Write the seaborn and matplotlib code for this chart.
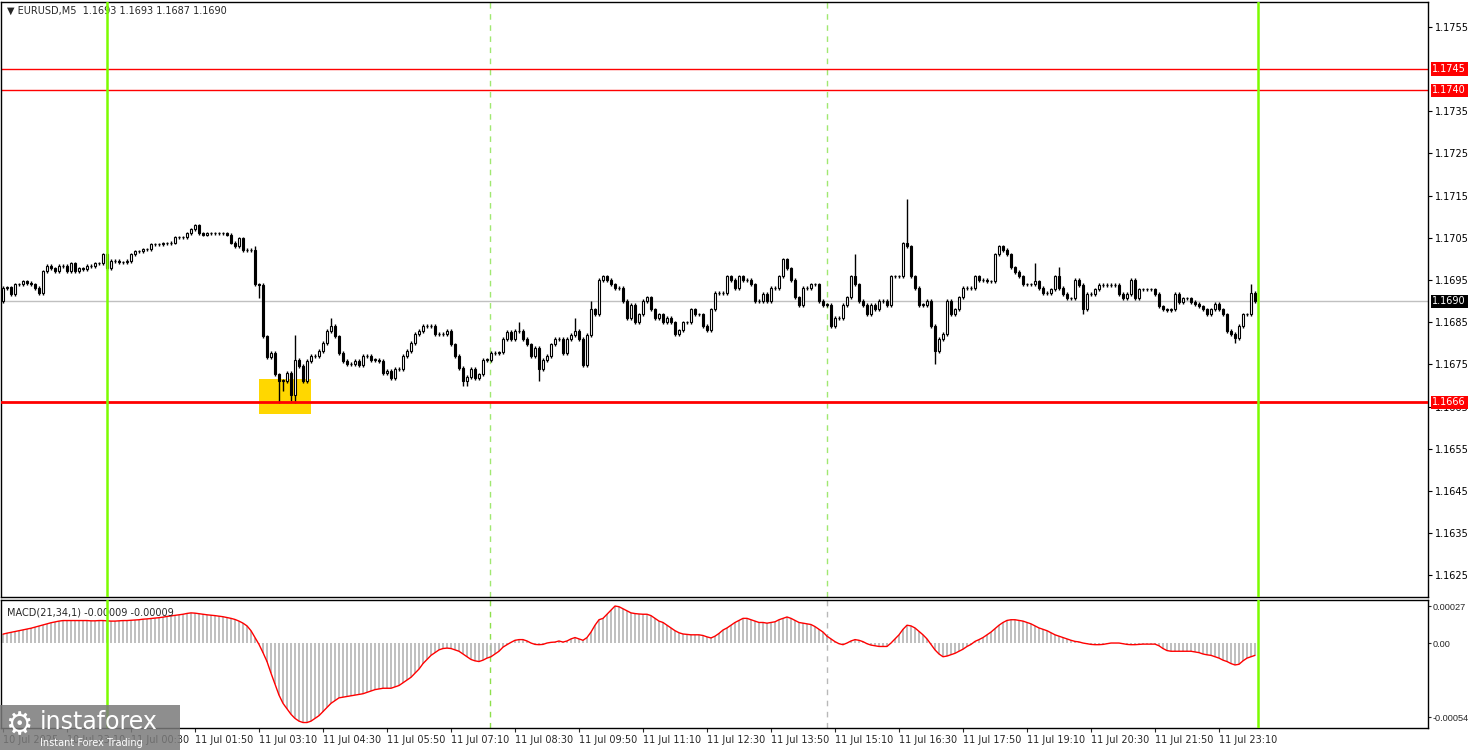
import matplotlib
matplotlib.use("Agg")

import matplotlib.pyplot as plt
import matplotlib.transforms as mtransforms
from matplotlib.patches import Rectangle
import numpy as np
import pandas as pd
import seaborn as sns

sns.set_style("white")
plt.rcParams["font.family"] = ["DejaVu Sans"]

# EURUSD M5 closes, 10 Jul 21:50 -> 11 Jul 23:55
closes = [
    1.16931, 1.16933, 1.16917, 1.16940, 1.16940, 1.16947, 1.16943, 1.16940, 1.16931, 1.16919,
    1.16971, 1.16983, 1.16978, 1.16971, 1.16983, 1.16983, 1.16971, 1.16990, 1.16971, 1.16978,
    1.16976, 1.16983, 1.16983, 1.16990, 1.16990, 1.17011, 1.16978, 1.16995, 1.16995, 1.16992,
    1.16992, 1.16995, 1.17011, 1.17018, 1.17018, 1.17023, 1.17023, 1.17035, 1.17035, 1.17035,
    1.17037, 1.17037, 1.17039, 1.17051, 1.17051, 1.17051, 1.17061, 1.17070, 1.17080, 1.17061,
    1.17058, 1.17061, 1.17061, 1.17061, 1.17061, 1.17061, 1.17058, 1.17039, 1.17030, 1.17049,
    1.17021, 1.17021, 1.17021, 1.16940, 1.16938, 1.16817, 1.16768, 1.16777, 1.16727, 1.16711,
    1.16711, 1.16730, 1.16678, 1.16761, 1.16746, 1.16711, 1.16758, 1.16770, 1.16770, 1.16782,
    1.16801, 1.16829, 1.16841, 1.16817, 1.16777, 1.16758, 1.16751, 1.16751, 1.16758, 1.16749,
    1.16770, 1.16770, 1.16761, 1.16761, 1.16758, 1.16730, 1.16735, 1.16718, 1.16739, 1.16739,
    1.16770, 1.16782, 1.16801, 1.16822, 1.16829, 1.16841, 1.16841, 1.16841, 1.16822, 1.16822,
    1.16822, 1.16829, 1.16798, 1.16770, 1.16742, 1.16711, 1.16720, 1.16739, 1.16718, 1.16727,
    1.16761, 1.16761, 1.16777, 1.16777, 1.16779, 1.16810, 1.16827, 1.16810, 1.16829, 1.16829,
    1.16810, 1.16798, 1.16770, 1.16789, 1.16739, 1.16761, 1.16770, 1.16798, 1.16810, 1.16810,
    1.16777, 1.16810, 1.16820, 1.16829, 1.16810, 1.16749, 1.16820, 1.16881, 1.16869, 1.16950,
    1.16959, 1.16950, 1.16940, 1.16931, 1.16931, 1.16900, 1.16860, 1.16891, 1.16850, 1.16869,
    1.16900, 1.16909, 1.16881, 1.16860, 1.16869, 1.16850, 1.16860, 1.16850, 1.16822, 1.16831,
    1.16850, 1.16850, 1.16881, 1.16869, 1.16869, 1.16841, 1.16831, 1.16881, 1.16919, 1.16919,
    1.16919, 1.16959, 1.16950, 1.16931, 1.16959, 1.16950, 1.16950, 1.16940, 1.16900, 1.16900,
    1.16917, 1.16900, 1.16931, 1.16931, 1.16959, 1.16999, 1.16978, 1.16950, 1.16909, 1.16891,
    1.16931, 1.16931, 1.16940, 1.16940, 1.16900, 1.16891, 1.16891, 1.16841, 1.16860, 1.16860,
    1.16891, 1.16909, 1.16959, 1.16940, 1.16900, 1.16891, 1.16869, 1.16891, 1.16881, 1.16900,
    1.16900, 1.16891, 1.16959, 1.16959, 1.16959, 1.17037, 1.17030, 1.16959, 1.16931, 1.16891,
    1.16891, 1.16900, 1.16841, 1.16782, 1.16810, 1.16822, 1.16900, 1.16869, 1.16881, 1.16909,
    1.16931, 1.16931, 1.16931, 1.16959, 1.16950, 1.16950, 1.16947, 1.16947, 1.17011, 1.17030,
    1.17021, 1.17011, 1.16980, 1.16969, 1.16959, 1.16940, 1.16940, 1.16940, 1.16947, 1.16931,
    1.16919, 1.16919, 1.16928, 1.16959, 1.16931, 1.16917, 1.16907, 1.16907, 1.16950, 1.16938,
    1.16881, 1.16917, 1.16917, 1.16928, 1.16938, 1.16938, 1.16938, 1.16938, 1.16938, 1.16917,
    1.16907, 1.16917, 1.16950, 1.16907, 1.16928, 1.16928, 1.16928, 1.16928, 1.16917, 1.16888,
    1.16881, 1.16879, 1.16881, 1.16917, 1.16898, 1.16907, 1.16907, 1.16898, 1.16893, 1.16888,
    1.16881, 1.16869, 1.16881, 1.16893, 1.16881, 1.16869, 1.16829, 1.16822, 1.16813, 1.16841,
    1.16869, 1.16869, 1.16919, 1.16900,
]
first_open = 1.16900
first_bar = "2025-07-10 21:50"

# MACD(21,34,1) per bar, in units of 1e-5
macd_e5 = [
    6.5, 7.2, 7.8, 8.4, 9, 9.6, 10.2, 10.8, 11.6, 12.4,
    13.2, 14, 14.8, 15.4, 16, 16.4, 16.4, 16.4, 16.4, 16.4,
    16.4, 16.4, 16.2, 16.2, 16.4, 16.4, 16.2, 16, 16, 16.2,
    16.4, 16.4, 16.6, 16.8, 17, 17.4, 17.6, 17.9, 18.2, 18.5,
    18.9, 19.4, 19.8, 20.2, 20.6, 21, 21.6, 22, 21.8, 21.4,
    21, 20.6, 20.3, 20, 19.6, 19.2, 18.6, 18, 17.2, 16,
    14.5, 12.5, 9, 4, -1, -7, -13.5, -22, -30, -38,
    -44, -48, -52, -55, -57, -58, -58, -57, -55, -53,
    -50, -47, -44, -42, -40, -39.5, -39, -38.5, -38, -37.5,
    -37, -36, -35, -34, -33.5, -33, -33, -33, -32, -31,
    -29, -27, -25, -22, -19, -15, -12, -9, -7, -5,
    -4, -3.7, -4, -5, -6, -8, -10, -12, -13, -13.5,
    -12.5, -11, -10, -8, -6, -3, -1.2, 0.5, 2, 2.5,
    2.5, 1.5, 0, -1, -1.2, -1, 0, 0.5, 0.7, 1.5,
    0.7, 1.5, 3, 4, 3, 2, 4, 8, 13, 17,
    18, 21, 24, 27, 26.5, 25, 23.5, 22, 21.5, 21.2,
    21, 21, 20, 18, 16, 15, 13, 11, 9, 7.5,
    6.6, 6.3, 6, 6, 6, 5.5, 4.5, 3.7, 5, 7,
    9.5, 11, 13, 15, 16.5, 18, 18, 17, 16, 15,
    15, 14.5, 15, 15.5, 17, 18, 19, 18, 16.5, 15,
    14.5, 14, 13.5, 12, 10, 8, 5, 3, 1, -0.5,
    -1.2, 0, 1.5, 2.5, 2, 1, -0.5, -1.5, -2, -2.5,
    -2.5, -2.5, 0, 3, 6, 10, 13, 12.5, 11, 8.5,
    6, 3, -1, -5, -8, -10, -9.5, -8.5, -7.5, -6,
    -4.5, -2.5, -1, 1.2, 2.5, 4, 6, 8, 10.5, 13,
    15, 16.5, 17, 17, 16.5, 16, 15, 14, 12.5, 11,
    10, 9, 7.5, 6, 5, 4, 3, 2, 1.2, 0.8,
    0, -0.5, -1, -1.2, -1.2, -1, -0.5, 0, 0, 0,
    -0.5, -1, -1.2, -1.2, -1, -0.8, -0.8, -0.8, -0.8, -2,
    -4, -5.5, -6, -6, -6, -6, -6, -6, -6.5, -7,
    -8, -8.6, -9, -10, -11, -12.5, -13.5, -15, -16, -15.5,
    -13, -11, -10, -9,
]

# long wicks (11 Jul time -> price)
spike_highs = {"03:05": 1.17030, "04:40": 1.16860, "08:35": 1.16850, "09:45": 1.16860,
               "10:05": 1.16900, "15:35": 1.17013, "16:40": 1.17141, "19:20": 1.16990,
               "19:50": 1.16980, "23:50": 1.16940, "03:55": 1.16820}
spike_lows = {"03:10": 1.16907, "03:35": 1.16659, "03:40": 1.16687, "03:50": 1.16664,
              "03:55": 1.16659, "07:25": 1.16699, "07:30": 1.16699, "09:00": 1.16711,
              "17:15": 1.16751, "20:20": 1.16869, "23:30": 1.16801}

red_levels = [1.1745, 1.1740]
support = 1.1666
bid = 1.1690
price_ticks = [1.1625, 1.1635, 1.1645, 1.1655, 1.1665, 1.1675, 1.1685,
               1.1695, 1.1705, 1.1715, 1.1725, 1.1735, 1.1755]
macd_ticks = [0.00027, 0.0, -0.00054]
macd_tick_labels = ["0.00027", "0.00", "-0.00054"]
box_times = ("03:10", "04:15")
box_prices = (1.16632, 1.16716)

day = pd.Timestamp("2025-07-11 00:00")
step = pd.Timedelta("5min")


def pos_of(t):
    return (pd.Timestamp(f"2025-07-11 {t}") - day) / step


df = pd.DataFrame({"time": pd.date_range(first_bar, periods=len(closes), freq="5min"),
                   "close": closes})
df["open"] = df["close"].shift(1).fillna(first_open)
df["pos"] = (df["time"] - day) / step
df["high"] = df[["open", "close"]].max(axis=1) + 0.00004
df["low"] = df[["open", "close"]].min(axis=1) - 0.00004
for t, v in spike_highs.items():
    df.loc[df["pos"] == pos_of(t), "high"] = v
for t, v in spike_lows.items():
    df.loc[df["pos"] == pos_of(t), "low"] = v
df["macd"] = np.array(macd_e5) * 1e-5

fig = plt.figure(figsize=(14.68, 7.5), dpi=100)
ax = fig.add_axes([1 / 1468, 1 - 597 / 750, 1427 / 1468, 595 / 750])
ax2 = fig.add_axes([1 / 1468, 1 - 728 / 750, 1427 / 1468, 128 / 750])

xlim = (-26.5, 330.25)
green = "#7cfc00"

# ---- price panel
ax.add_patch(Rectangle((pos_of(box_times[0]), box_prices[0]),
                       pos_of(box_times[1]) - pos_of(box_times[0]),
                       box_prices[1] - box_prices[0], color="#ffd700", zorder=1, lw=0))
ax.axhline(bid, color="#c0c0c0", lw=1, zorder=2)
for lv in red_levels:
    ax.axhline(lv, color="red", lw=1, zorder=2)
ax.axhline(support, color="red", lw=2, zorder=4)

ax.vlines(df["pos"], df["low"], df["high"], color="black", lw=1, zorder=3)
body = (df["close"] - df["open"]).abs().clip(lower=0.000012)
bottom = df[["open", "close"]].min(axis=1)
fill = np.where(df["close"] >= df["open"], "white", "black")
ax.bar(df["pos"], body, bottom=bottom, width=0.7, color=fill,
       edgecolor="black", linewidth=0.8, zorder=3)

for a in (ax, ax2):
    a.axvline(0, color=green, lw=1.8, zorder=5)
    a.axvline(287.75, color=green, lw=1.8, zorder=5)
ax.axvline(95.75, color="#a0e870", lw=1, ls=(0, (4, 4)), zorder=0)
ax.axvline(180, color="#a0e870", lw=1, ls=(0, (4, 4)), zorder=0)
ax2.axvline(95.75, color="#8de04a", lw=1, ls=(0, (4, 4)), zorder=0)
ax2.axvline(180, color="#b8b8b8", lw=1, ls=(0, (4, 4)), zorder=0)

ax.set_xlim(*xlim)
ax.set_ylim(1.16199, 1.17609)
ax.set_xticks([])
ax.yaxis.tick_right()
ax.set_yticks(price_ticks)
ax.set_yticklabels([f"{p:.4f}" for p in price_ticks])
ax.tick_params(axis="y", right=True, length=3, width=0.8, labelsize=7, pad=2, colors="black")

trans = mtransforms.blended_transform_factory(ax.transAxes, ax.transData)
for lv in red_levels + [support]:
    ax.text(1.003, lv, f"{lv:.4f}", transform=trans, color="white", fontsize=7,
            va="center", ha="left", zorder=10,
            bbox=dict(facecolor="red", edgecolor="none", pad=1.2))
ax.text(1.003, bid, f"{bid:.4f}", transform=trans, color="white", fontsize=7,
        va="center", ha="left", zorder=10,
        bbox=dict(facecolor="black", edgecolor="none", pad=1.2))

ax.text(0.004, 0.985, "▼ EURUSD,M5  1.1693 1.1693 1.1687 1.1690",
        transform=ax.transAxes, fontsize=7, va="center", ha="left", zorder=4)

# ---- MACD panel
ax2.vlines(df["pos"], 0, df["macd"], color="#b4b4b4", lw=1.2, zorder=2)
sns.lineplot(x=df["pos"], y=df["macd"], color="red", lw=1, ax=ax2, zorder=3)
ax2.set_xlim(*xlim)
ax2.set_ylim(-0.00062, 0.000314)
ax2.set_ylabel("")
ax2.set_xlabel("")
ax2.yaxis.tick_right()
ax2.set_yticks(macd_ticks)
ax2.set_yticklabels(macd_tick_labels, family="Liberation Sans")
ax2.tick_params(axis="y", right=True, length=2, width=0.8, labelsize=6.6, pad=1)
ax2.text(0.004, 0.9, "MACD(21,34,1) -0.00009 -0.00009", transform=ax2.transAxes,
         fontsize=7, va="center", ha="left")

label_times = pd.date_range("2025-07-10 23:10", "2025-07-11 23:10", freq="80min")
tick_pos = [-26] + list((label_times - day) / step)
tick_lab = ["10 Jul 2025"] + [t.strftime("%d %b %H:%M").lstrip("0") for t in label_times]
ax2.set_xticks(tick_pos)
ax2.set_xticklabels(tick_lab, ha="left")
ax2.tick_params(axis="x", bottom=True, length=3, width=0.8, labelsize=7, pad=2)

for a in (ax, ax2):
    for sp in a.spines.values():
        sp.set_color("black")
        sp.set_linewidth(1)

# ---- watermark
logo = fig.add_axes([0, 0, 180 / 1468, 45 / 750], zorder=20)
logo.set_facecolor("#7a7a7a")
logo.patch.set_alpha(0.85)
logo.set_xticks([])
logo.set_yticks([])
for sp in logo.spines.values():
    sp.set_visible(False)
logo.text(0.03, 0.55, "⚙", color="white", fontsize=22, va="center", ha="left")
logo.text(0.22, 0.62, "instaforex", color="white", fontsize=17, va="center", ha="left")
logo.text(0.22, 0.16, "Instant Forex Trading", color="white", fontsize=7, va="center", ha="left")

fig.savefig("out.png", dpi=100)
